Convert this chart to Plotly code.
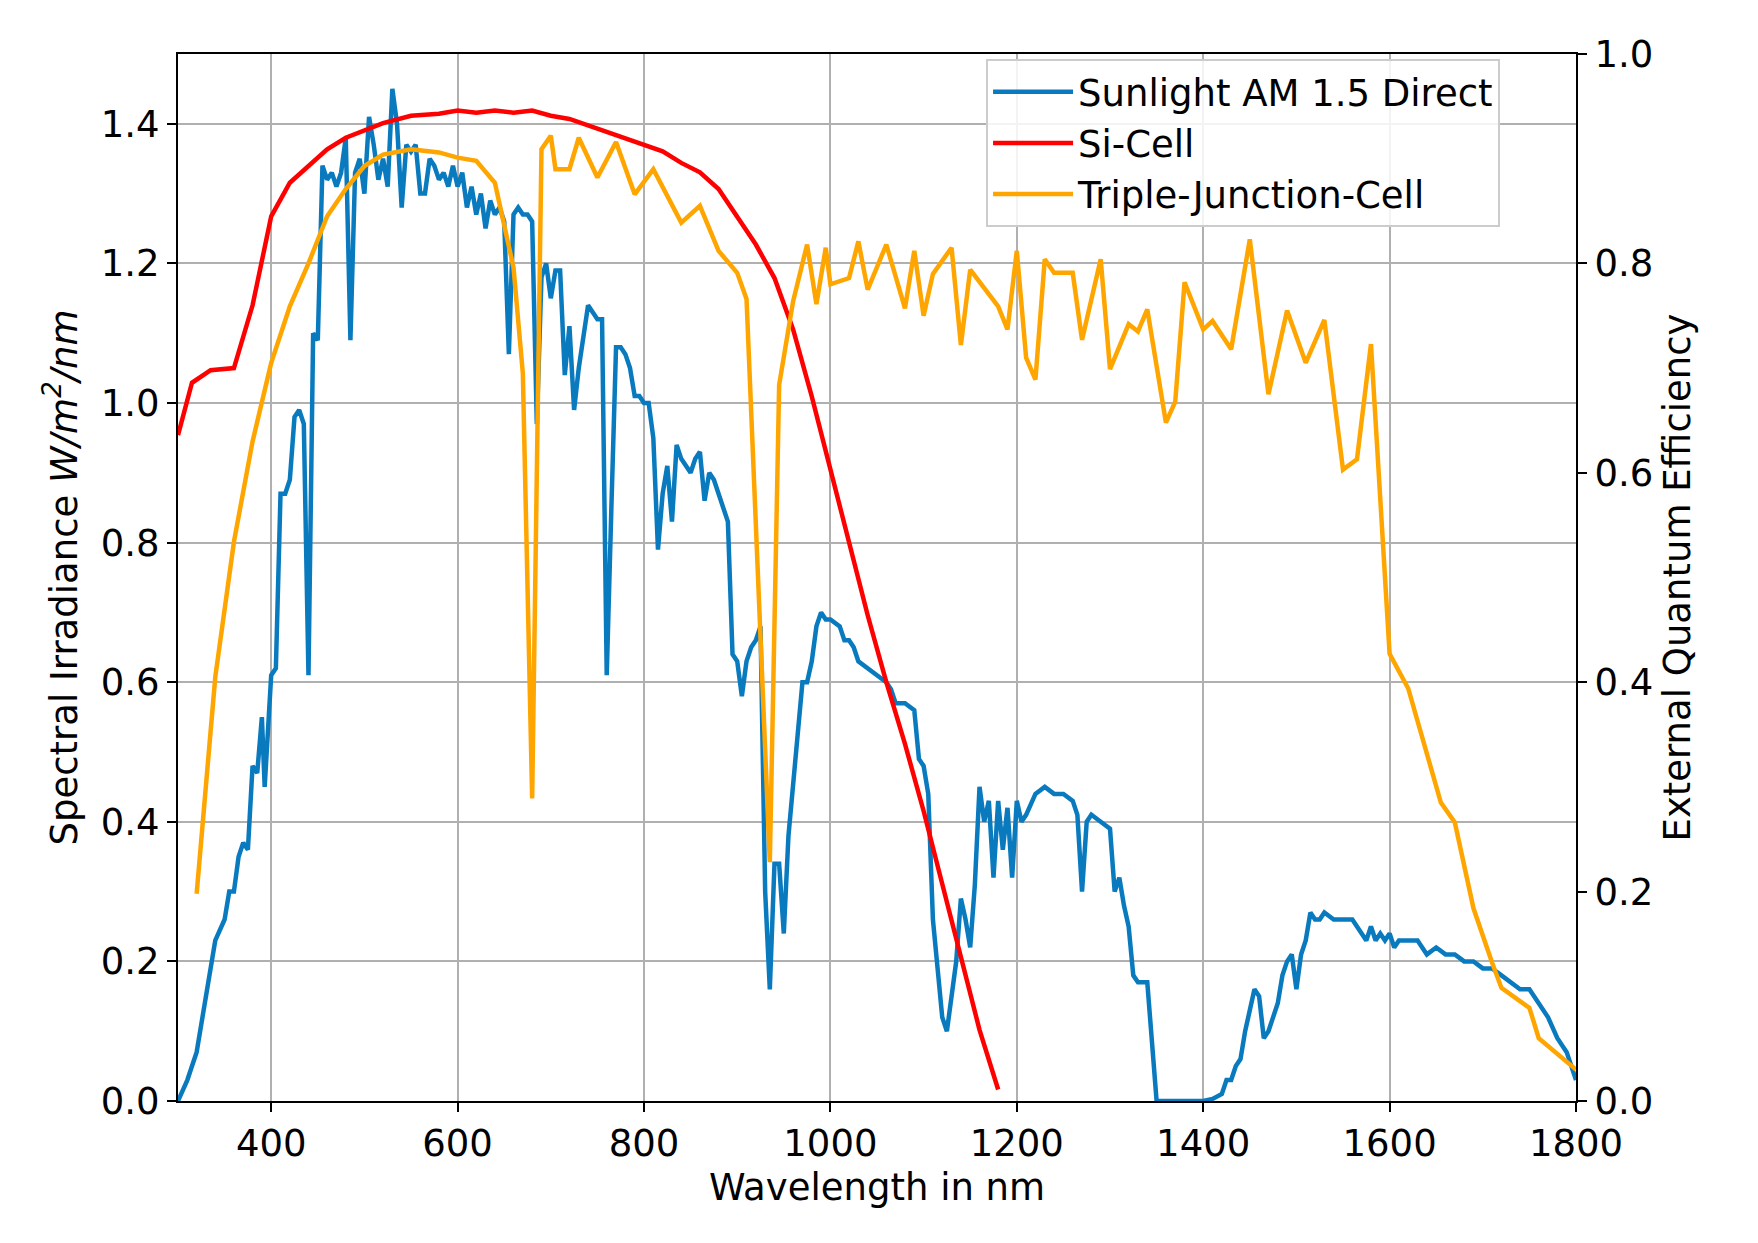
import plotly.graph_objects as go

# Sunlight AM 1.5 direct spectrum (W/m^2/nm)
sun_wl = [300, 310, 320, 330, 340, 350, 355, 360, 365, 370, 375, 380, 385, 390, 393, 400, 405, 410, 415, 420,
          425, 430, 435, 440, 445, 450, 455, 460, 465, 470, 475, 480, 485, 490, 495, 500, 505, 510, 515, 520,
          525, 530, 535, 540, 545, 550, 555, 560, 565, 570, 575, 580, 585, 590, 595, 600, 605, 610, 615, 620,
          625, 630, 635, 640, 645, 650, 655, 660, 665, 670, 675, 680, 685, 690, 695, 700, 705, 710, 715, 720,
          725, 730, 735, 740, 745, 750, 755, 760, 765, 770, 775, 780, 785, 790, 795, 800, 805, 810, 815, 820,
          825, 830, 835, 840, 845, 850, 855, 860, 865, 870, 875, 880, 885, 890, 895, 900, 905, 910, 915, 920,
          925, 930, 935, 940, 945, 950, 955, 960, 965, 970, 975, 980, 985, 990, 995, 1000, 1010, 1015, 1020, 1025,
          1030, 1040, 1050, 1060, 1065, 1070, 1080, 1090, 1095, 1100, 1105, 1110, 1115, 1120, 1125, 1130, 1135, 1140, 1145, 1150,
          1155, 1160, 1165, 1170, 1175, 1180, 1185, 1190, 1195, 1200, 1205, 1210, 1220, 1230, 1240, 1250, 1260, 1265, 1270, 1275,
          1280, 1290, 1300, 1305, 1310, 1315, 1320, 1325, 1330, 1340, 1345, 1350, 1360, 1400, 1410, 1420, 1425, 1430, 1435, 1440,
          1445, 1450, 1455, 1460, 1465, 1470, 1475, 1480, 1485, 1490, 1495, 1500, 1505, 1510, 1515, 1520, 1525, 1530, 1540, 1550,
          1560, 1570, 1575, 1580, 1585, 1590, 1595, 1600, 1605, 1610, 1620, 1630, 1640, 1650, 1660, 1670, 1680, 1690, 1700, 1710,
          1720, 1730, 1740, 1750, 1760, 1770, 1780, 1790, 1800]
sun_val = [0.0, 0.03, 0.07, 0.15, 0.23, 0.26, 0.30, 0.30, 0.35, 0.37, 0.36, 0.48, 0.47, 0.55, 0.45, 0.61, 0.62, 0.87, 0.87, 0.89,
           0.98, 0.99, 0.97, 0.61, 1.10, 1.09, 1.34, 1.32, 1.33, 1.31, 1.33, 1.38, 1.09, 1.33, 1.35, 1.30, 1.41, 1.37, 1.32, 1.35,
           1.31, 1.45, 1.40, 1.28, 1.37, 1.36, 1.37, 1.30, 1.30, 1.35, 1.34, 1.32, 1.33, 1.31, 1.34, 1.31, 1.33, 1.28, 1.31, 1.27,
           1.30, 1.25, 1.29, 1.27, 1.28, 1.26, 1.07, 1.27, 1.28, 1.27, 1.27, 1.26, 0.97, 1.18, 1.20, 1.15, 1.19, 1.19, 1.04, 1.11,
           0.99, 1.05, 1.10, 1.14, 1.13, 1.12, 1.12, 0.61, 0.85, 1.08, 1.08, 1.07, 1.05, 1.01, 1.01, 1.00, 1.00, 0.95, 0.79, 0.87,
           0.91, 0.83, 0.94, 0.92, 0.91, 0.90, 0.92, 0.93, 0.86, 0.90, 0.89, 0.87, 0.85, 0.83, 0.64, 0.63, 0.58, 0.63, 0.65, 0.66,
           0.68, 0.30, 0.16, 0.34, 0.34, 0.24, 0.38, 0.45, 0.53, 0.60, 0.60, 0.63, 0.68, 0.70, 0.69, 0.69, 0.68, 0.66, 0.66, 0.65,
           0.63, 0.62, 0.61, 0.60, 0.59, 0.57, 0.57, 0.56, 0.49, 0.48, 0.44, 0.26, 0.19, 0.12, 0.10, 0.15, 0.20, 0.29, 0.26, 0.22,
           0.31, 0.45, 0.40, 0.43, 0.32, 0.43, 0.36, 0.42, 0.32, 0.43, 0.40, 0.41, 0.44, 0.45, 0.44, 0.44, 0.43, 0.41, 0.30, 0.40,
           0.41, 0.40, 0.39, 0.30, 0.32, 0.28, 0.25, 0.18, 0.17, 0.17, 0.08, 0.0, 0.0, 0.0, 0.003, 0.01, 0.03, 0.03, 0.05, 0.06,
           0.10, 0.13, 0.16, 0.15, 0.09, 0.10, 0.12, 0.14, 0.18, 0.20, 0.21, 0.16, 0.21, 0.23, 0.27, 0.26, 0.26, 0.27, 0.26, 0.26,
           0.26, 0.24, 0.23, 0.25, 0.23, 0.24, 0.23, 0.24, 0.22, 0.23, 0.23, 0.23, 0.21, 0.22, 0.21, 0.21, 0.20, 0.20, 0.19, 0.19,
           0.18, 0.17, 0.16, 0.16, 0.14, 0.12, 0.09, 0.07, 0.03]

# Si cell EQE
si_wl = [300, 315, 335, 360, 380, 400, 420, 440, 460, 480, 500, 520, 550, 580, 600, 620, 640, 660, 680, 700,
         720, 740, 760, 780, 800, 820, 840, 860, 880, 900, 920, 940, 960, 980, 1000, 1020, 1040, 1060, 1080, 1100,
         1120, 1140, 1160, 1180]
si_val = [0.636, 0.686, 0.698, 0.700, 0.76, 0.845, 0.877, 0.893, 0.909, 0.920, 0.927, 0.934, 0.941, 0.943, 0.946, 0.944, 0.946, 0.944, 0.946, 0.941,
          0.938, 0.932, 0.925, 0.920, 0.914, 0.907, 0.896, 0.887, 0.871, 0.845, 0.818, 0.786, 0.737, 0.673, 0.603, 0.534, 0.464, 0.400, 0.341, 0.277,
          0.207, 0.137, 0.068, 0.011]

# Triple-junction cell EQE
tj_wl = [320, 340, 360, 380, 400, 420, 440, 460, 480, 500, 520, 550, 580, 600, 620, 640, 660, 670, 680, 690,
         700, 705, 720, 730, 750, 770, 790, 810, 840, 860, 880, 900, 910, 935, 945, 960, 975, 985, 995, 1000,
         1020, 1030, 1040, 1060, 1080, 1090, 1100, 1110, 1130, 1140, 1150, 1180, 1190, 1200, 1210, 1220, 1230, 1240, 1260, 1270,
         1290, 1300, 1320, 1330, 1340, 1360, 1370, 1380, 1400, 1410, 1430, 1450, 1470, 1490, 1510, 1530, 1550, 1565, 1580, 1600,
         1620, 1640, 1655, 1670, 1690, 1710, 1720, 1750, 1760, 1800]
tj_val = [0.198, 0.405, 0.534, 0.630, 0.705, 0.759, 0.800, 0.845, 0.871, 0.893, 0.904, 0.909, 0.906, 0.901, 0.898, 0.877, 0.796, 0.695, 0.289, 0.909,
          0.922, 0.890, 0.890, 0.920, 0.882, 0.916, 0.866, 0.890, 0.839, 0.855, 0.812, 0.791, 0.766, 0.228, 0.684, 0.764, 0.818, 0.761, 0.815, 0.780,
          0.786, 0.821, 0.775, 0.818, 0.757, 0.812, 0.750, 0.790, 0.815, 0.722, 0.794, 0.759, 0.737, 0.812, 0.710, 0.689, 0.804, 0.791, 0.791, 0.727,
          0.804, 0.699, 0.742, 0.735, 0.756, 0.648, 0.668, 0.782, 0.737, 0.745, 0.718, 0.823, 0.675, 0.755, 0.705, 0.746, 0.603, 0.613, 0.723, 0.427,
          0.394, 0.332, 0.285, 0.266, 0.184, 0.132, 0.108, 0.089, 0.060, 0.030]

FONT = "DejaVu Sans"
FS = 37

fig = go.Figure()
fig.add_trace(go.Scatter(x=sun_wl, y=sun_val, mode="lines", name="Sunlight AM 1.5 Direct",
                         line=dict(color="#0a7abf", width=4.5)))
fig.add_trace(go.Scatter(x=si_wl, y=si_val, mode="lines", name="Si-Cell", yaxis="y2",
                         line=dict(color="#ff0000", width=4.5)))
fig.add_trace(go.Scatter(x=tj_wl, y=tj_val, mode="lines", name="Triple-Junction-Cell", yaxis="y2",
                         line=dict(color="#ffa500", width=4.5)))

axis_common = dict(showline=True, linecolor="black", linewidth=2, ticks="outside", ticklen=9,
                   tickwidth=2, tickcolor="black", zeroline=False, automargin=False,
                   tickfont=dict(family=FONT, size=FS, color="black"))

fig.update_layout(
    width=1758, height=1243,
    paper_bgcolor="white", plot_bgcolor="white",
    margin=dict(l=170, r=190, t=46, b=150),
    font=dict(family=FONT, size=FS, color="black"),
    xaxis=dict(range=[300, 1800], tickvals=[400, 600, 800, 1000, 1200, 1400, 1600, 1800],
               mirror=True, showgrid=True, gridcolor="#b0b0b0", gridwidth=2,
               title=dict(text="Wavelength in nm", font=dict(family=FONT, size=FS), standoff=10),
               **axis_common),
    yaxis=dict(range=[0, 1.5], tickvals=[0, 0.2, 0.4, 0.6, 0.8, 1.0, 1.2, 1.4], tickformat=".1f",
               showgrid=True, gridcolor="#b0b0b0", gridwidth=2,
               title=dict(text="Spectral Irradiance <i>W/m<sup>2</sup>/nm</i>", font=dict(family=FONT, size=FS), standoff=12),
               **axis_common),
    yaxis2=dict(range=[0, 1.0], tickvals=[0, 0.2, 0.4, 0.6, 0.8, 1.0], tickformat=".1f",
                overlaying="y", side="right", showgrid=False,
                title=dict(text="External Quantum Efficiency", font=dict(family=FONT, size=FS), standoff=12),
                **axis_common),
    legend=dict(x=0.578, y=0.995, xanchor="left", yanchor="top", bgcolor="rgba(255,255,255,0.85)",
                bordercolor="#cccccc", borderwidth=2, font=dict(family=FONT, size=FS),
                itemwidth=80, tracegroupgap=6),
    showlegend=True,
)

fig.write_html("out.html")
